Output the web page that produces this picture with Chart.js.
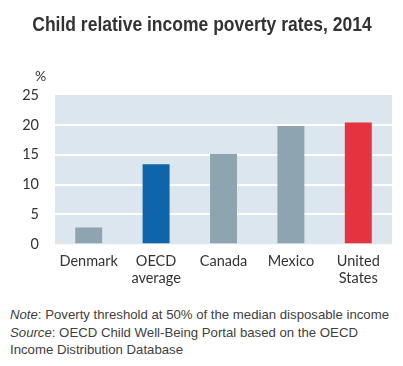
<!DOCTYPE html>
<html><head><meta charset="utf-8">
<script src="https://cdn.jsdelivr.net/npm/chart.js@4"></script>
<style>
html,body{margin:0;padding:0;background:#fff;}
#title{position:absolute;left:0;top:10px;width:403px;text-align:center;font-family:"Liberation Sans",Arial,sans-serif;font-weight:bold;font-size:20px;line-height:28px;color:#333;}
#title span{display:inline-block;transform:scaleX(0.875);transform-origin:center;white-space:nowrap;}
#wrap{position:absolute;left:0;top:0;width:403px;height:290px;}
#notes{position:absolute;left:10px;top:306px;font-family:"Liberation Sans",Arial,sans-serif;font-size:13.2px;line-height:17.5px;color:#404040;white-space:nowrap;}
</style></head><body>
<div id="wrap"><canvas id="c" width="403" height="290"></canvas></div>
<div id="title"><span id="tt"></span></div>
<div id="notes"><i>Note</i>: Poverty threshold at 50% of the median disposable income<br><i>Source</i>: OECD Child Well-Being Portal based on the OECD<br>Income Distribution Database</div>
<script>
const categories = [["Denmark"], ["OECD", "average"], ["Canada"], ["Mexico"], ["United", "States"]];
const values = [2.8, 13.4, 15.1, 19.8, 20.4];
const barColors = ["#8fa4b1", "#0f65a9", "#8fa4b1", "#8fa4b1", "#e5343f"];
const yTicks = [0, 5, 10, 15, 20, 25];
const titleText = "Child relative income poverty rates, 2014";
const unitLabel = "%";

document.getElementById('tt').textContent = titleText;

const bgPlugin = {
  id: 'bg',
  beforeDraw(chart) {
    const {ctx, chartArea: a} = chart;
    ctx.save();
    ctx.fillStyle = '#dce6ee';
    ctx.fillRect(a.left, a.top, a.right - a.left, a.bottom - a.top);
    ctx.restore();
  },
  afterDraw(chart) {
    const {ctx} = chart;
    ctx.save();
    ctx.font = '14px Lato, sans-serif';
    ctx.fillStyle = '#333';
    ctx.textAlign = 'left';
    ctx.textBaseline = 'middle';
    ctx.fillText(unitLabel, 35, 76);
    ctx.restore();
  }
};

new Chart(document.getElementById('c'), {
  type: 'bar',
  data: {
    labels: categories,
    datasets: [{ data: values, backgroundColor: barColors, barPercentage: 0.4, categoryPercentage: 1 }]
  },
  options: {
    responsive: false,
    animation: false,
    layout: { padding: { top: 95, right: 11, bottom: 3 } },
    plugins: {
      legend: { display: false },
      tooltip: { enabled: false },
      title: { display: false }
    },
    scales: {
      x: {
        grid: { display: false },
        border: { display: false },
        ticks: { color: '#333', font: { family: 'Lato, sans-serif', size: 14.5 }, padding: 0, maxRotation: 0 }
      },
      y: {
        min: 0, max: 25,
        afterBuildTicks(s) { s.ticks = yTicks.map(v => ({ value: v })); },
        afterFit(s) { s.width = 55; },
        border: { display: false },
        grid: {
          color: ctx => (ctx.tick && (ctx.tick.value === 0 || ctx.tick.value === 25)) ? 'rgba(0,0,0,0)' : '#ffffff',
          lineWidth: 2, drawTicks: false
        },
        ticks: { color: '#333', font: { family: 'Lato, sans-serif', size: 14.5 }, padding: 16 }
      }
    }
  },
  plugins: [bgPlugin]
});
</script>
</body></html>
